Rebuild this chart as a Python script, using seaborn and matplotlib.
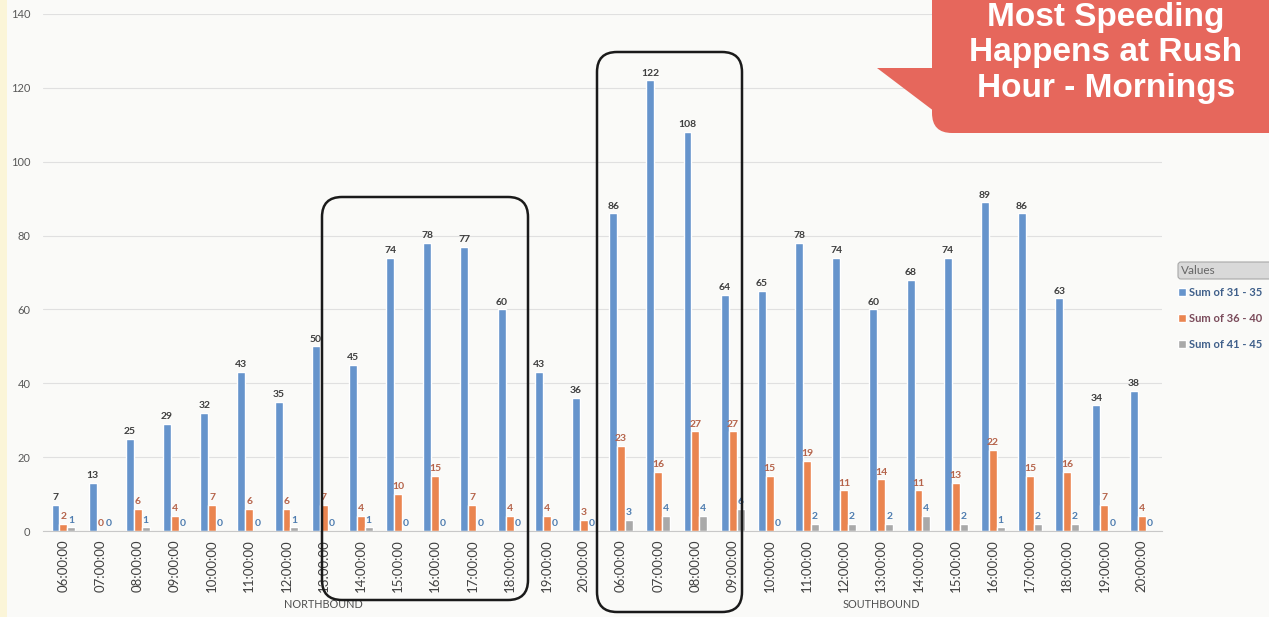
import numpy as np
import pandas as pd
import seaborn as sns
import matplotlib.pyplot as plt
from matplotlib.patches import FancyBboxPatch, Polygon, Rectangle
import matplotlib.transforms as mtransforms

# Data
hours = ['06:00:00', '07:00:00', '08:00:00', '09:00:00', '10:00:00', '11:00:00', '12:00:00',
         '13:00:00', '14:00:00', '15:00:00', '16:00:00', '17:00:00', '18:00:00', '19:00:00', '20:00:00']
directions = ['NORTHBOUND', 'SOUTHBOUND']
series = ['Sum of 31 - 35', 'Sum of 36 - 40', 'Sum of 41 - 45']

north_31_35 = [7, 13, 25, 29, 32, 43, 35, 50, 45, 74, 78, 77, 60, 43, 36]
north_36_40 = [2, 0, 6, 4, 7, 6, 6, 7, 4, 10, 15, 7, 4, 4, 3]
north_41_45 = [1, 0, 1, 0, 0, 0, 1, 0, 1, 0, 0, 0, 0, 0, 0]
south_31_35 = [86, 122, 108, 64, 65, 78, 74, 60, 68, 74, 89, 86, 63, 34, 38]
south_36_40 = [23, 16, 27, 27, 15, 19, 11, 14, 11, 13, 22, 15, 16, 7, 4]
south_41_45 = [3, 4, 4, 6, 0, 2, 2, 2, 4, 2, 1, 2, 2, 0, 0]

values = {
    'NORTHBOUND': [north_31_35, north_36_40, north_41_45],
    'SOUTHBOUND': [south_31_35, south_36_40, south_41_45],
}

rows = []
for d in directions:
    for s, vals in zip(series, values[d]):
        for h, v in zip(hours, vals):
            rows.append({'slot': d + ' ' + h, 'hour': h, 'series': s, 'value': v})
df = pd.DataFrame(rows)
slots = [d + ' ' + h for d in directions for h in hours]

colors = ['#6694CC', '#EA8550', '#A9A9A9']
label_colors = ['#3E3E3E', '#B5634A', '#4F7DB0']

sns.set_style('white')
plt.rcParams['font.family'] = ['Lato', 'DejaVu Sans']

fig = plt.figure(figsize=(12.69, 6.17), dpi=100)
fig.patch.set_facecolor('#FAFAF8')
ax = fig.add_axes([43 / 1269, (617 - 531) / 617, (1162 - 43) / 1269, 517 / 617])
ax.set_facecolor('#FAFAF8')

sns.barplot(data=df, x='slot', y='value', hue='series', order=slots, hue_order=series,
            palette=colors, width=0.64, saturation=1, ax=ax)

for cont, c in zip(ax.containers, label_colors):
    ax.bar_label(cont, fontsize=7.5, fontweight='bold', color=c, padding=2)

ax.set_ylim(0, 140)
ax.set_xlim(-0.55, len(slots) - 0.45)
ax.set_yticks(np.arange(0, 141, 20))
ax.yaxis.grid(True, color='#E0E0E0', linewidth=0.8)
ax.set_axisbelow(True)
ax.set_xticks(range(len(slots)))
ax.set_xticklabels(hours * 2, rotation=90, fontsize=9.5, color='#404040')
ax.tick_params(axis='y', labelsize=8, colors='#595959', length=0, pad=9)
ax.tick_params(axis='x', length=0, pad=6)
ax.set_xlabel('')
ax.set_ylabel('')
for sp in ['left', 'top', 'right']:
    ax.spines[sp].set_visible(False)
ax.spines['bottom'].set_color('#C8C8C8')

# direction labels under the hour labels
trans = mtransforms.blended_transform_factory(ax.transData, ax.transAxes)
for i, d in enumerate(directions):
    ax.text(i * len(hours) + (len(hours) - 1) / 2, -0.143, d, transform=trans,
            ha='center', va='center', fontsize=7.8, color='#505050')

# legend
handles, labels = ax.get_legend_handles_labels()
ax.legend(handles, labels, loc='upper left', bbox_to_anchor=(1178 / 1269, (617 - 287) / 617),
          bbox_transform=fig.transFigure, frameon=False, fontsize=8, handlelength=0.7,
          handleheight=0.7, handletextpad=0.3, labelspacing=1.35, borderpad=0, borderaxespad=0)
for t, c in zip(ax.get_legend().get_texts(), ['#3F5F8A', '#7A4A5A', '#3F5F8A']):
    t.set_color(c)
    t.set_fontweight('bold')

fig.patches.append(FancyBboxPatch((11.78, 3.38), 1.2, 0.17, boxstyle='round,pad=0,rounding_size=0.03',
                                  transform=fig.dpi_scale_trans, facecolor='#D9D9D9',
                                  edgecolor='#A8A8A8', linewidth=0.8))
fig.text(11.81, 3.465, 'Values', transform=fig.dpi_scale_trans, fontsize=8.5,
         color='#666666', va='center', ha='left')

# left strip
fig.patches.append(Rectangle((0, 0), 0.07, 6.17, transform=fig.dpi_scale_trans,
                             facecolor='#FBF5D8', edgecolor='none', zorder=-1))

# highlight boxes
for (x0, y0, w, h) in [(3.22, 0.17, 2.06, 4.03), (5.97, 0.05, 1.45, 5.60)]:
    fig.patches.append(FancyBboxPatch((x0, y0), w, h, boxstyle='round,pad=0,rounding_size=0.2',
                                      transform=fig.dpi_scale_trans, facecolor='none',
                                      edgecolor='#1A1A1A', linewidth=1.8, zorder=10))

# callout
callout_color = '#E6675C'
fig.patches.append(FancyBboxPatch((9.32, 4.84), 3.6, 1.6, boxstyle='round,pad=0,rounding_size=0.2',
                                  transform=fig.dpi_scale_trans, facecolor=callout_color,
                                  edgecolor='none', zorder=11))
fig.patches.append(Polygon([(9.45, 5.49), (8.77, 5.49), (9.55, 4.9), (9.45, 4.9)], closed=True,
                           transform=fig.dpi_scale_trans, facecolor=callout_color,
                           edgecolor='none', zorder=11))
fig.text(11.06, 5.64, 'Most Speeding\nHappens at Rush\nHour - Mornings', transform=fig.dpi_scale_trans,
         ha='center', va='center', fontsize=24, fontweight='bold', color='white',
         family=['Liberation Sans', 'DejaVu Sans'], linespacing=1.19, zorder=12)

fig.savefig('out.png', dpi=100, facecolor=fig.get_facecolor())
